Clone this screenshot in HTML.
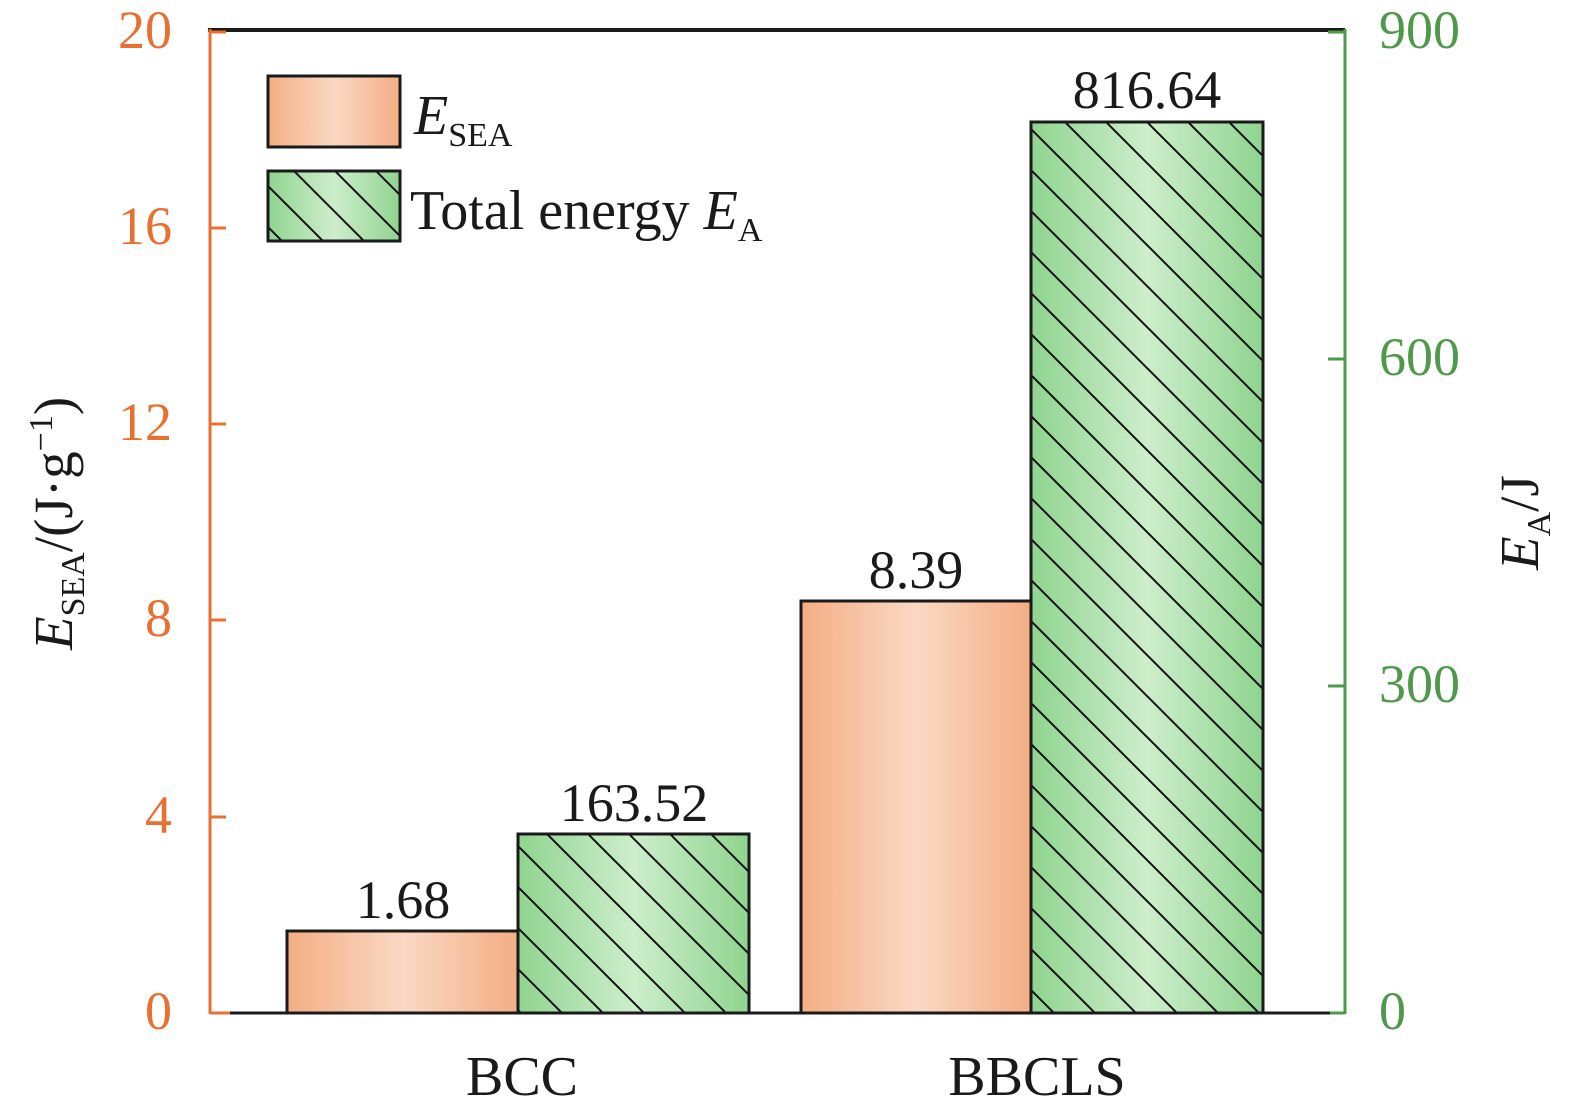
<!DOCTYPE html>
<html><head><meta charset="utf-8"><style>
html,body{margin:0;padding:0;background:#fff}
svg{display:block}
text{font-family:"Liberation Serif",serif}
</style></head><body>
<svg width="1575" height="1116" viewBox="0 0 1575 1116" xmlns="http://www.w3.org/2000/svg">
<defs>
<linearGradient id="og" x1="0" x2="1" y1="0" y2="0">
<stop offset="0" stop-color="#f4ae84"/><stop offset="0.5" stop-color="#fad8c4"/><stop offset="1" stop-color="#f4ae84"/>
</linearGradient>
<linearGradient id="gg" x1="0" x2="1" y1="0" y2="0">
<stop offset="0" stop-color="#8fd48f"/><stop offset="0.5" stop-color="#cdeecb"/><stop offset="1" stop-color="#8fd48f"/>
</linearGradient>
<pattern id="hatch" patternUnits="userSpaceOnUse" width="41" height="41">
<path d="M-5,-5 L46,46 M-46,-5 L5,46 M36,-5 L87,46" stroke="#111" stroke-width="2"/>
</pattern>
</defs>
<line x1="208" y1="30" x2="1345" y2="30" stroke="#1a1a1a" stroke-width="4"/>
<line x1="210" y1="29" x2="210" y2="1014" stroke="#e87030" stroke-width="3"/>
<g stroke="#e87030" stroke-width="3">
<line x1="210" y1="32" x2="226" y2="32"/><line x1="210" y1="228" x2="226" y2="228"/>
<line x1="210" y1="424" x2="226" y2="424"/><line x1="210" y1="620" x2="226" y2="620"/>
<line x1="210" y1="817" x2="226" y2="817"/><line x1="210" y1="1013" x2="230" y2="1013"/>
</g>
<g fill="#e87030" font-size="54" text-anchor="end">
<text x="172" y="48">20</text><text x="172" y="244">16</text><text x="172" y="440">12</text>
<text x="172" y="636">8</text><text x="172" y="833">4</text><text x="172" y="1029">0</text>
</g>
<line x1="1345" y1="29" x2="1345" y2="1014" stroke="#4e9a4a" stroke-width="3"/>
<g stroke="#4e9a4a" stroke-width="3">
<line x1="1328" y1="32" x2="1345" y2="32"/><line x1="1328" y1="359" x2="1345" y2="359"/>
<line x1="1328" y1="686" x2="1345" y2="686"/><line x1="1328" y1="1013" x2="1345" y2="1013"/>
</g>
<g fill="#4e9a4a" font-size="54">
<text x="1379" y="48">900</text><text x="1379" y="375">600</text><text x="1379" y="702">300</text><text x="1379" y="1029">0</text>
</g>
<g stroke="#1a1a1a" stroke-width="3">
<rect x="287" y="931" width="231" height="82" fill="url(#og)"/>
<rect x="518" y="834" width="231" height="179" fill="url(#gg)"/>
<rect x="518" y="834" width="231" height="179" fill="url(#hatch)" stroke="none"/>
<rect x="518" y="834" width="231" height="179" fill="none"/>
<rect x="801" y="601" width="230" height="412" fill="url(#og)"/>
<rect x="1031" y="122" width="232" height="891" fill="url(#gg)"/>
<rect x="1031" y="122" width="232" height="891" fill="url(#hatch)" stroke="none"/>
<rect x="1031" y="122" width="232" height="891" fill="none"/>
</g>
<line x1="230" y1="1013" x2="1330" y2="1013" stroke="#1a1a1a" stroke-width="3"/>
<g fill="#1a1a1a" font-size="54" text-anchor="middle">
<text x="403" y="918">1.68</text><text x="634" y="821">163.52</text>
<text x="916" y="588">8.39</text><text x="1147" y="108">816.64</text>
</g>
<g fill="#1a1a1a" font-size="56" text-anchor="middle">
<text x="522" y="1095">BCC</text><text x="1037" y="1095">BBCLS</text>
</g>
<rect x="268" y="76" width="132" height="71" fill="url(#og)" stroke="#1a1a1a" stroke-width="3"/>
<rect x="268" y="171" width="132" height="70" fill="url(#gg)" stroke="#1a1a1a" stroke-width="3"/>
<rect x="268" y="171" width="132" height="70" fill="url(#hatch)"/>
<rect x="268" y="171" width="132" height="70" fill="none" stroke="#1a1a1a" stroke-width="3"/>
<text x="414" y="134" font-size="56" fill="#1a1a1a"><tspan font-style="italic">E</tspan><tspan font-size="34" dy="12">SEA</tspan></text>
<text x="410" y="229" font-size="56" fill="#1a1a1a">Total energy <tspan font-style="italic">E</tspan><tspan font-size="34" dy="12">A</tspan></text>
<text transform="translate(72,650) rotate(-90)" font-size="55" fill="#1a1a1a"><tspan font-style="italic">E</tspan><tspan font-size="34" dy="12">SEA</tspan><tspan dy="-12">/(J·g</tspan><tspan font-size="34" dy="-20">−1</tspan><tspan dy="20">)</tspan></text>
<text transform="translate(1538,570) rotate(-90)" font-size="55" fill="#1a1a1a"><tspan font-style="italic">E</tspan><tspan font-size="34" dy="12">A</tspan><tspan dy="-12">/J</tspan></text>
</svg>
</body></html>
